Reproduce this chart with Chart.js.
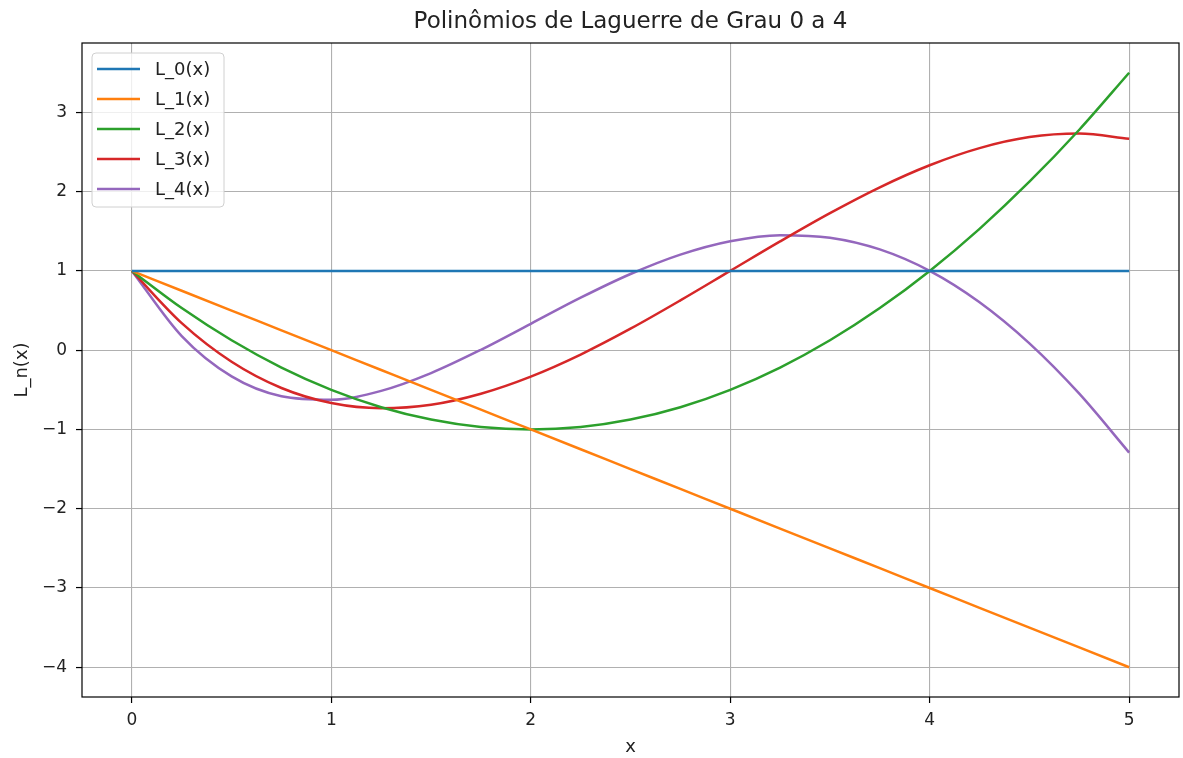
<!DOCTYPE html>
<html lang="pt">
<head>
  <meta charset="utf-8">
  <title>Polinômios de Laguerre</title>
  <script src="https://cdn.jsdelivr.net/npm/chart.js"></script>
  <style>
    body { margin: 0; background: white; }
    #wrap { width: 1183px; height: 758px; }
  </style>
</head>
<body>
<div id="wrap"><canvas id="chart"></canvas></div>
<script>
  // valores, passo 0.25
  const xs = [0, 0.25, 0.5, 0.75, 1, 1.25, 1.5, 1.75, 2, 2.25, 2.5, 2.75, 3, 3.25, 3.5, 3.75, 4, 4.25, 4.5, 4.75, 5];
  const l0 = [1, 1, 1, 1, 1, 1, 1, 1, 1, 1, 1, 1, 1, 1, 1, 1, 1, 1, 1, 1, 1];
  const l1 = [1, 0.75, 0.5, 0.25, 0, -0.25, -0.5, -0.75, -1, -1.25, -1.5, -1.75, -2, -2.25, -2.5, -2.75, -3, -3.25, -3.5, -3.75, -4];
  const l2 = [1, 0.531, 0.125, -0.219, -0.5, -0.719, -0.875, -0.969, -1, -0.969, -0.875, -0.719, -0.5, -0.219, 0.125, 0.531, 1, 1.531, 2.125, 2.781, 3.5];
  const l3 = [1, 0.341, -0.146, -0.477, -0.667, -0.732, -0.688, -0.549, -0.333, -0.055, 0.271, 0.628, 1, 1.372, 1.729, 2.055, 2.333, 2.549, 2.688, 2.732, 2.667];
  const l4 = [1, 0.177, -0.331, -0.581, -0.625, -0.513, -0.289, 0.005, 0.333, 0.662, 0.961, 1.206, 1.375, 1.451, 1.419, 1.271, 1, 0.604, 0.086, -0.549, -1.292];

  const names = ['L_0(x)', 'L_1(x)', 'L_2(x)', 'L_3(x)', 'L_4(x)'];
  const series = [l0, l1, l2, l3, l4];
  const colors = ['#1f77b4', '#ff7f0e', '#2ca02c', '#d62728', '#9467bd'];

  const xTicks = [0, 1, 2, 3, 4, 5];
  const yTicks = [-4, -3, -2, -1, 0, 1, 2, 3];

  const titleText = 'Polinômios de Laguerre de Grau 0 a 4';

  const datasets = series.map((s, i) => ({
    label: names[i],
    data: xs.map((x, j) => ({ x: x, y: s[j] })),
    borderColor: colors[i],
    borderWidth: 2.5,
    pointRadius: 0,
    cubicInterpolationMode: 'monotone',
    fill: false
  }));

  const FONT = 'DejaVu Sans';
  const minus = v => String(v).replace('-', '\u2212');

  // moldura dos eixos + titulo centrado na area do grafico
  const frame = {
    id: 'frame',
    afterDraw(chart) {
      const a = chart.chartArea, c = chart.ctx;
      c.save();
      c.strokeStyle = 'black';
      c.lineWidth = 1.2;
      c.strokeRect(a.left, a.top, a.right - a.left, a.bottom - a.top);
      c.font = '23px "' + FONT + '"';
      c.fillStyle = '#222';
      c.textAlign = 'center';
      c.textBaseline = 'middle';
      c.fillText(titleText, (a.left + a.right) / 2, 22);
      c.restore();
    }
  };

  // legenda dentro da area, canto superior esquerdo
  const innerLegend = {
    id: 'innerLegend',
    afterDatasetsDraw(chart) {
      const c = chart.ctx, a = chart.chartArea;
      const x0 = a.left + 10, y0 = a.top + 10, w = 132, h = 154;
      c.save();
      c.beginPath();
      c.roundRect(x0, y0, w, h, 4);
      c.fillStyle = 'rgba(255,255,255,0.8)';
      c.fill();
      c.strokeStyle = '#d0d0d0';
      c.lineWidth = 1;
      c.stroke();
      c.font = '18px "' + FONT + '"';
      c.textBaseline = 'middle';
      c.fillStyle = '#222';
      names.forEach((n, i) => {
        const y = y0 + 16 + i * 30;
        c.beginPath();
        c.moveTo(x0 + 5, y);
        c.lineTo(x0 + 48, y);
        c.strokeStyle = colors[i];
        c.lineWidth = 2.5;
        c.stroke();
        c.fillText(n, x0 + 63, y + 1);
      });
      c.restore();
    }
  };

  new Chart(document.getElementById('chart'), {
    type: 'line',
    data: { datasets: datasets },
    plugins: [frame, innerLegend],
    options: {
      responsive: true,
      maintainAspectRatio: false,
      animation: false,
      layout: { padding: { left: 0, right: 4, top: 43, bottom: 0 } },
      plugins: {
        legend: { display: false },
        tooltip: { enabled: false },
        title: { display: false }
      },
      scales: {
        x: {
          type: 'linear',
          min: -0.25,
          max: 5.25,
          afterBuildTicks: ax => { ax.ticks = xTicks.map(v => ({ value: v })); },
          afterFit: ax => { ax.height = 61; },
          border: { display: false },
          grid: { color: '#b0b0b0', lineWidth: 1.1, tickColor: 'black', tickLength: 6, tickWidth: 1.2 },
          ticks: { color: '#222', padding: 7, maxRotation: 0, font: { family: FONT, size: 17 }, callback: v => minus(v) },
          title: { display: true, text: 'x', color: '#222', font: { family: FONT, size: 18 }, padding: { top: 0, bottom: 0 } }
        },
        y: {
          min: -4.375,
          max: 3.875,
          afterBuildTicks: ax => { ax.ticks = yTicks.map(v => ({ value: v })); },
          afterFit: ax => { ax.width = 82; },
          border: { display: false },
          grid: { color: '#b0b0b0', lineWidth: 1.1, tickColor: 'black', tickLength: 6, tickWidth: 1.2 },
          ticks: { color: '#222', padding: 9, font: { family: FONT, size: 17 }, callback: v => minus(v) },
          title: { display: true, text: 'L_n(x)', color: '#222', font: { family: FONT, size: 18 }, padding: { top: 12, bottom: 0 } }
        }
      }
    }
  });
</script>
</body>
</html>
